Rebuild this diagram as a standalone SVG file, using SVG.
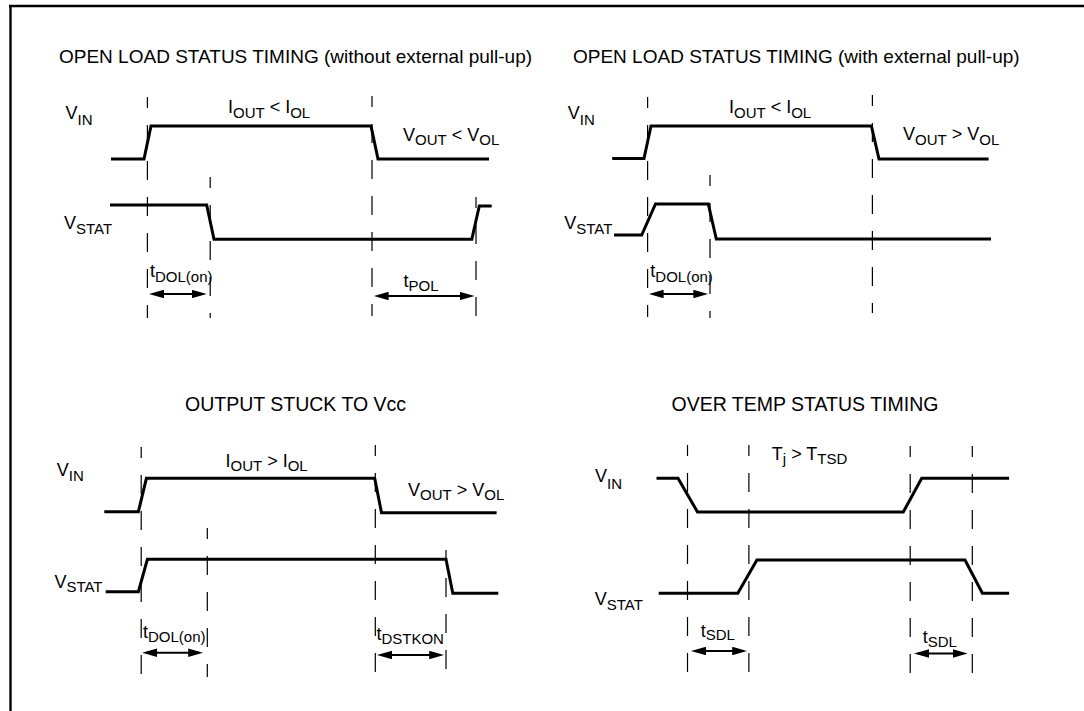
<svg xmlns="http://www.w3.org/2000/svg" width="1084" height="711" viewBox="0 0 1084 711">
<defs>
<style>
text{font-family:"Liberation Sans",Arial,Helvetica,sans-serif;fill:#000}
.ttl{font-size:19px}
.ttl2{font-size:19.5px}
.lb{font-size:18px}
.sb{font-size:15px}
.w{fill:none;stroke:#000;stroke-width:3;stroke-linejoin:miter}
.d{fill:none;stroke:#000;stroke-width:1.2;stroke-dasharray:19 17;stroke-dashoffset:8}
.a{fill:none;stroke:#000;stroke-width:2;marker-start:url(#ah);marker-end:url(#ah)}
.fr{fill:none;stroke:#000;stroke-width:2.4}
</style>
<marker id="ah" viewBox="0 0 15 8.5" refX="11" refY="4.25" markerWidth="15" markerHeight="8.5" markerUnits="userSpaceOnUse" orient="auto-start-reverse">
<path d="M0,0 L15,4.25 L0,8.5 z" fill="#000"/>
</marker>
</defs>
<rect width="1084" height="711" fill="#fff"/>
<g id="frame">
<path class="fr" d="M9,6 H1084 M10.5,5 V711"/>
</g>

<g id="panel-open-load-no-pullup">
<text class="ttl" x="59" y="62.5">OPEN LOAD STATUS TIMING (without external pull-up)</text>
<text class="lb" x="65.5" y="119">V<tspan class="sb" dy="6">IN</tspan></text>
<text class="lb" x="228" y="112.5">I<tspan class="sb" dy="5">OUT</tspan><tspan dy="-5"> &lt; I</tspan><tspan class="sb" dy="5">OL</tspan></text>
<text class="lb" x="403" y="140.5">V<tspan class="sb" dy="4.5">OUT</tspan><tspan dy="-4.5"> &lt; V</tspan><tspan class="sb" dy="4.5">OL</tspan></text>
<text class="lb" x="64" y="228.5">V<tspan class="sb" dy="5">STAT</tspan></text>
<text class="lb" x="150" y="276.7">t<tspan class="sb" dy="5">DOL(on)</tspan></text>
<text class="lb" x="403.6" y="286.5">t<tspan class="sb" dy="4.5">POL</tspan></text>
<path class="w" d="M111,159 H144 L151,126 H371 L378,159 H489"/>
<path class="w" d="M110,205 H206.7 L214,239.3 H471.8 L479.3,206 H491.7"/>
</g>

<g id="panel-open-load-pullup">
<text class="ttl" x="573" y="62.5">OPEN LOAD STATUS TIMING (with external pull-up)</text>
<text class="lb" x="567.8" y="119">V<tspan class="sb" dy="6">IN</tspan></text>
<text class="lb" x="729" y="112.5">I<tspan class="sb" dy="5">OUT</tspan><tspan dy="-5"> &lt; I</tspan><tspan class="sb" dy="5">OL</tspan></text>
<text class="lb" x="903" y="139.5">V<tspan class="sb" dy="5">OUT</tspan><tspan dy="-5"> &gt; V</tspan><tspan class="sb" dy="5">OL</tspan></text>
<text class="lb" x="564.3" y="228.5">V<tspan class="sb" dy="5">STAT</tspan></text>
<text class="lb" x="650.3" y="276.7">t<tspan class="sb" dy="5">DOL(on)</tspan></text>
<path class="w" d="M612.2,158.5 H644 L651,126 H871.4 L879,159 H988.6"/>
<path class="w" d="M614,235 H641.7 L655.5,204 H708.3 L716.3,239 H991"/>
</g>

<g id="panel-stuck-vcc">
<text class="ttl2" x="185" y="410.5">OUTPUT STUCK TO Vcc</text>
<text class="lb" x="56.8" y="476">V<tspan class="sb" dy="5">IN</tspan></text>
<text class="lb" x="225.5" y="466.5">I<tspan class="sb" dy="4">OUT</tspan><tspan dy="-4"> &gt; I</tspan><tspan class="sb" dy="4">OL</tspan></text>
<text class="lb" x="408" y="496">V<tspan class="sb" dy="3.5">OUT</tspan><tspan dy="-3.5"> &gt; V</tspan><tspan class="sb" dy="3.5">OL</tspan></text>
<text class="lb" x="54.4" y="588">V<tspan class="sb" dy="3.5">STAT</tspan></text>
<text class="lb" x="143" y="638.3">t<tspan class="sb" dy="4">DOL(on)</tspan></text>
<text class="lb" x="376.4" y="640">t<tspan class="sb" dy="4">DSTKON</tspan></text>
<path class="w" d="M104.3,511.7 H138.4 L146.4,478.3 H374.7 L381.5,512.7 H496.6"/>
<path class="w" d="M105.7,591.7 H138.4 L147.4,559.3 H446 L452.8,593.3 H498.3"/>
</g>

<g id="panel-over-temp">
<text class="ttl2" x="671.5" y="411">OVER TEMP STATUS TIMING</text>
<text class="lb" x="595" y="482.3">V<tspan class="sb" dy="6.5">IN</tspan></text>
<text class="lb" x="771.8" y="460">T<tspan class="sb" dy="4">j</tspan><tspan dy="-4"> &gt; T</tspan><tspan class="sb" dy="4">TSD</tspan></text>
<text class="lb" x="594.8" y="605">V<tspan class="sb" dy="5">STAT</tspan></text>
<text class="lb" x="700.7" y="637">t<tspan class="sb" dy="3">SDL</tspan></text>
<text class="lb" x="922.7" y="642.5">t<tspan class="sb" dy="4">SDL</tspan></text>
<path class="w" d="M656.5,478.3 H678 L697.5,512 H903.3 L921.7,478.3 H1009.1"/>
<path class="w" d="M658.7,593.3 H737.8 L756.9,560 H965 L982.4,593.3 H1009.1"/>
</g>

<g id="connectors">
<path class="d" d="M147.4,97 V318"/>
<path class="d" d="M210.2,177 V318"/>
<path class="d" d="M372,96 V316"/>
<path class="d" d="M476,197 V317"/>
<path class="d" d="M647.6,97 V317"/>
<path class="d" d="M710,175 V318"/>
<path class="d" d="M872.4,95 V313"/>
<path class="d" d="M141.2,447 V675"/>
<path class="d" d="M207.3,528 V677"/>
<path class="d" d="M375.3,445 V673"/>
<path class="d" d="M446,550 V673"/>
<path class="d" d="M687.5,445 V673"/>
<path class="d" d="M748.9,445 V673"/>
<path class="d" d="M910.2,446 V675"/>
<path class="d" d="M972.3,446 V676"/>
<path class="a" d="M153,294 H202.7"/>
<path class="a" d="M377.6,296 H470.5"/>
<path class="a" d="M652.6,294 H704.3"/>
<path class="a" d="M146.2,652.7 H199.2"/>
<path class="a" d="M381,655 H440.2"/>
<path class="a" d="M695,651 H743.2"/>
<path class="a" d="M918,653.5 H963.6"/>
</g>
</svg>
